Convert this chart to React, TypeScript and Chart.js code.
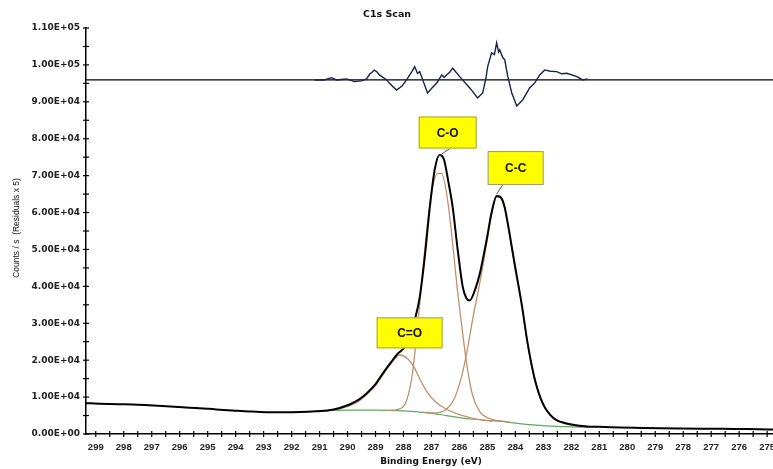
import { useEffect, useRef } from "react";
import { Chart, registerables } from "chart.js";

Chart.register(...registerables);

const W = 773;
const H = 469;

// ---- Data (binding energy eV, counts/s) ----
const envelopeEnergy = [
  299.35, 298.88, 298.2, 297.7, 297.1, 296.48, 295.9, 295.3, 294.7, 294.12, 293.5, 292.9, 292.3, 291.72,
  291.11, 290.54, 289.93, 289.6, 289.32, 289.0, 288.75, 288.45, 288.2, 287.97, 287.75, 287.6, 287.42,
  287.24, 287.06, 286.88, 286.71, 286.55, 286.4, 286.24, 286.06, 285.88, 285.75, 285.63, 285.45, 285.27,
  285.03, 284.85, 284.67, 284.55, 284.4, 284.27, 284.02, 283.77, 283.56, 283.31, 283.02, 282.66, 282.16,
  281.44, 280.8, 280.26, 279.5, 278.8, 278.11, 277.3, 276.6, 275.96, 275.3, 274.79,
];
const envelopeCounts = [
  8360, 8200, 8050, 8010, 7800, 7540, 7250, 7000, 6650, 6380, 6100, 5920, 5900, 5950,
  6190, 6570, 8000, 9300, 11000, 13500, 16300, 19400, 21800, 23400, 26500, 30800, 37000,
  47900, 61400, 71800, 75600, 74300, 68500, 61400, 49800, 39800, 36800, 36200, 38900, 43500,
  52500, 60000, 64500, 64300, 62000, 57000, 45800, 35000, 24500, 15000, 8300, 4500, 2850,
  2050, 1900, 1760, 1650, 1560, 1500, 1450, 1420, 1360, 1300, 1220,
];

const coEnergy = [
  288.6, 288.2, 287.89, 287.68, 287.5, 287.32, 287.14, 286.96, 286.78, 286.64, 286.46, 286.28, 286.1,
  285.92, 285.74, 285.53, 285.27, 285.0, 284.6, 284.2,
];
const coCounts = [
  6400, 6700, 9090, 16400, 28900, 43500, 57100, 66900, 70600, 70600, 65300, 54400, 41000,
  29500, 19000, 10500, 6000, 4400, 3600, 3200,
];

const ccEnergy = [
  287.3, 286.9, 286.5, 286.2, 285.95, 285.75, 285.53, 285.27, 285.03, 284.85, 284.67, 284.55, 284.4,
  284.27, 284.02, 283.77, 283.56, 283.31, 283.02, 282.66, 282.16, 281.44,
];
const ccCounts = [
  5950, 5700, 6500, 9300, 14800, 21500, 31000, 41000, 51500, 59500, 64200, 64000, 61600,
  56600, 45500, 34700, 24200, 14700, 8100, 4300, 2650, 1950,
];

const c2oEnergy = [
  291.15, 290.54, 289.93, 289.6, 289.32, 289.0, 288.75, 288.45, 288.14, 287.85, 287.6, 287.42, 287.14,
  286.81, 286.46, 286.1, 285.6, 285.2, 284.8,
];
const c2oCounts = [
  6200, 6450, 7600, 8900, 10600, 13100, 15900, 19000, 21400, 20400, 17800, 15000, 11200,
  8400, 6700, 5500, 4400, 3800, 3500,
];

const bgEnergy = [
  291.15, 290.5, 289.8, 289.0, 288.5, 288.0, 287.5, 287.0, 286.5, 286.0, 285.5, 285.0, 284.5, 284.0,
  283.5, 283.0, 282.5, 282.0, 281.4,
];
const bgCounts = [
  6200, 6400, 6450, 6450, 6400, 6250, 6000, 5600, 5050, 4450, 4000, 3700, 3400, 2950,
  2550, 2250, 2050, 1950, 1850,
];

// residuals (x5), plotted around the residual zero line
const residualZero = 95930;
const residualEnergy = [
  291.18, 290.83, 290.58, 290.4, 290.04, 289.75, 289.5, 289.32, 289.2, 289.14, 289.05, 288.96, 288.86,
  288.61, 288.5, 288.25, 288.05, 287.89, 287.7, 287.6, 287.5, 287.42, 287.14, 286.95, 286.81, 286.63,
  286.55, 286.46, 286.35, 286.24, 285.99, 285.63, 285.35, 285.17, 285.05, 284.99, 284.85, 284.75, 284.67,
  284.6, 284.56, 284.45, 284.38, 284.27, 284.13, 283.95, 283.74, 283.49, 283.3, 283.13, 282.95, 282.75,
  282.52, 282.35, 282.16, 281.8, 281.59, 281.41,
];
const residualCounts = [
  95930, 95930, 96550, 95930, 96200, 95470, 95660, 96200, 97600, 97910, 98600, 98180, 97290,
  96000, 95000, 93210, 94300, 95930, 98200, 99540, 97700, 98180, 92400, 94000, 95110, 97290,
  96600, 97290, 98000, 99110, 96820, 93760, 91050, 92400, 96500, 99540, 103260, 102800, 105970,
  103500, 104070, 102000, 101360, 96820, 92400, 88870, 90500, 93760, 95200, 97290, 98640, 98300,
  98180, 97600, 97750, 96820, 95930, 96200,
];

// axis ranges / ticks
const xMin = 274.79;
const xMax = 299.35;
const xStep = 0.5;
const yMin = 0;
const yMax = 110000;
const yStep = 5000;
const yLabelStep = 10000;

// peak labels (text, anchor at peak, box centre in data units)
const labelTexts = ["C-O", "C-C", "C=O"];
const labelAnchorEnergy = [286.75, 284.67, 288.14];
const labelAnchorCounts = [75200, 65000, 21400];
const labelBoxEnergy = [286.42, 283.99, 287.78];
const labelBoxCounts = [81680, 72050, 27400];
const labelBoxSize = [
  [58, 32],
  [56, 34],
  [66, 31],
];
const labelLeaderDx = [2, -13, null];

const titleText = "C1s Scan";
const xTitle = "Binding Energy (eV)";
const yTitle = "Counts / s  (Residuals x 5)";

const pts = (xs: number[], ys: number[]) => xs.map((x, i) => ({ x, y: ys[i] }));

function sci(v: number): string {
  if (Math.abs(v) < 1e-9) return "0.00E+00";
  const e = Math.floor(Math.log10(Math.abs(v)) + 1e-12);
  const m = v / Math.pow(10, e);
  return m.toFixed(2) + "E" + (e >= 0 ? "+" : "-") + String(Math.abs(e)).padStart(2, "0");
}

const decorPlugin = {
  id: "decor",
  afterDatasetsDraw(chart: any) {
    const { ctx, chartArea, scales } = chart;
    const xs = scales.x;
    const ys = scales.y;
    ctx.save();

    // tick marks crossing the axes
    ctx.strokeStyle = "#000";
    ctx.lineWidth = 1.2;
    ys.ticks.forEach((t: any) => {
      const v = Math.round(t.value);
      if (v % yStep !== 0) return;
      const py = ys.getPixelForValue(v);
      ctx.beginPath();
      ctx.moveTo(chartArea.left - 3, py);
      ctx.lineTo(chartArea.left + 3, py);
      ctx.stroke();
    });
    xs.ticks.forEach((t: any) => {
      const d = t.value / xStep;
      if (Math.abs(d - Math.round(d)) > 1e-6) return;
      const px = xs.getPixelForValue(t.value);
      ctx.beginPath();
      ctx.moveTo(px, chartArea.bottom - 3);
      ctx.lineTo(px, chartArea.bottom + 3);
      ctx.stroke();
    });

    // peak label boxes
    labelTexts.forEach((txt, i) => {
      const cx = xs.getPixelForValue(labelBoxEnergy[i]);
      const cy = ys.getPixelForValue(labelBoxCounts[i]);
      const [bw, bh] = labelBoxSize[i];
      const dx = labelLeaderDx[i];
      if (dx !== null) {
        const ax = xs.getPixelForValue(labelAnchorEnergy[i]);
        const ay = ys.getPixelForValue(labelAnchorCounts[i]);
        ctx.strokeStyle = "#555";
        ctx.lineWidth = 1;
        ctx.beginPath();
        ctx.moveTo(cx + dx, cy + bh / 2);
        ctx.lineTo(ax, ay);
        ctx.stroke();
      }
      ctx.fillStyle = "#ffff00";
      ctx.fillRect(cx - bw / 2, cy - bh / 2, bw, bh);
      ctx.strokeStyle = "#9a9a7a";
      ctx.lineWidth = 1;
      ctx.strokeRect(cx - bw / 2 + 0.5, cy - bh / 2 + 0.5, bw - 1, bh - 1);
      ctx.fillStyle = "#111";
      ctx.font = "bold 12px 'Liberation Sans', Arial, sans-serif";
      ctx.textAlign = "center";
      ctx.textBaseline = "middle";
      ctx.fillText(txt, cx, cy + 1);
    });

    // titles
    ctx.fillStyle = "#111";
    ctx.textAlign = "center";
    ctx.textBaseline = "middle";
    ctx.font = "bold 9.5px 'DejaVu Sans', sans-serif";
    ctx.fillText(titleText, 387, 15);
    ctx.font = "bold 9px 'DejaVu Sans', sans-serif";
    ctx.fillText(xTitle, 431, 462);
    ctx.translate(17, 228);
    ctx.rotate(-Math.PI / 2);
    ctx.font = "8.5px 'Liberation Sans', Arial, sans-serif";
    ctx.fillText(yTitle, 0, 0);
    ctx.restore();
  },
};

export default function App() {
  const ref = useRef<HTMLCanvasElement | null>(null);

  useEffect(() => {
    if (!ref.current) return;
    const line = (data: any[], color: string, width: number, smooth = true) => ({
      data,
      borderColor: color,
      borderWidth: width,
      pointRadius: 0,
      fill: false,
      cubicInterpolationMode: smooth ? ("monotone" as const) : ("default" as const),
      tension: 0,
    });
    const chart = new Chart(ref.current, {
      type: "line",
      data: {
        datasets: [
          line(pts(envelopeEnergy, envelopeCounts), "#000000", 2),
          line(pts(ccEnergy, ccCounts), "#c09070", 1.3),
          line(pts(coEnergy, coCounts), "#c09070", 1.3),
          line(pts(c2oEnergy, c2oCounts), "#c09070", 1.3),
          line(pts(bgEnergy, bgCounts), "#62a862", 1.2),
          line(pts(residualEnergy, residualCounts), "#1c2050", 1.4, false),
          {
            data: pts([xMax, xMin], [residualZero, residualZero]),
            borderColor: "#000",
            borderWidth: 1.3,
            pointRadius: 0,
            fill: false,
          },
        ],
      },
      options: {
        animation: false,
        responsive: false,
        devicePixelRatio: 1,
        events: [],
        layout: { padding: { top: 28, left: 0, right: 0, bottom: 0 } },
        plugins: { legend: { display: false }, tooltip: { enabled: false }, title: { display: false } },
        scales: {
          x: {
            type: "linear",
            reverse: true,
            min: xMin,
            max: xMax,
            grid: { display: false, drawTicks: false },
            border: { display: true, color: "#000", width: 1.5 },
            afterFit: (s: any) => {
              s.height = 35;
              s.paddingLeft = 0;
              s.paddingRight = 0;
            },
            ticks: {
              stepSize: xStep,
              includeBounds: false,
              autoSkip: false,
              maxRotation: 0,
              padding: 8,
              color: "#222",
              font: { family: "'Liberation Sans', Arial, sans-serif", size: 9.5, weight: "bold" },
              callback: (v: any) => {
                const n = Number(v);
                return Math.abs(n - Math.round(n)) < 1e-6 ? String(Math.round(n)) : "";
              },
            },
          },
          y: {
            type: "linear",
            min: yMin,
            max: yMax,
            grid: { display: false, drawTicks: false },
            border: { display: true, color: "#000", width: 1.5 },
            afterFit: (s: any) => {
              s.width = 86;
              s.paddingTop = 0;
              s.paddingBottom = 0;
            },
            ticks: {
              stepSize: yStep,
              autoSkip: false,
              padding: 6,
              color: "#222",
              font: { family: "'DejaVu Sans', sans-serif", size: 9, weight: "bold" },
              callback: (v: any) => {
                const n = Math.round(Number(v));
                return n % yLabelStep === 0 ? sci(n) : "";
              },
            },
          },
        },
      },
      plugins: [decorPlugin],
    } as any);
    return () => chart.destroy();
  }, []);

  return (
    <div style={{ position: "fixed", left: 0, top: 0, width: W, height: H, background: "#fff" }}>
      <canvas ref={ref} width={W} height={H} style={{ width: W, height: H, display: "block" }} />
    </div>
  );
}
